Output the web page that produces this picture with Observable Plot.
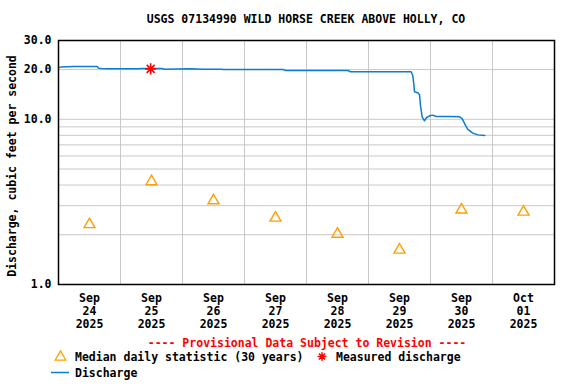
<!DOCTYPE html>
<html>
<head>
<meta charset="utf-8">
<script src="https://cdn.jsdelivr.net/npm/d3@7"></script>
<script src="https://cdn.jsdelivr.net/npm/@observablehq/plot@0.6"></script>
<style>
  html, body { margin: 0; padding: 0; background: #fff; }
  #chart { width: 576px; height: 384px; }
</style>
</head>
<body>
<div id="chart"></div>
<script>
// ---- data ----
const title = "USGS 07134990 WILD HORSE CREEK ABOVE HOLLY, CO";
const yLabel = "Discharge, cubic feet per second";
const provisional = "---- Provisional Data Subject to Revision ----";

const dischargeTimes = [
  "2025-09-24T00:00Z","2025-09-24T01:00Z","2025-09-24T06:00Z","2025-09-24T15:00Z",
  "2025-09-24T15:30Z","2025-09-24T18:00Z","2025-09-25T06:00Z","2025-09-25T09:00Z",
  "2025-09-25T16:00Z","2025-09-25T17:00Z","2025-09-26T03:00Z","2025-09-26T08:00Z",
  "2025-09-26T15:00Z","2025-09-26T16:00Z","2025-09-27T15:00Z","2025-09-27T16:00Z",
  "2025-09-28T16:00Z","2025-09-28T17:00Z","2025-09-29T16:30Z","2025-09-29T17:08Z",
  "2025-09-29T17:32Z","2025-09-29T17:48Z","2025-09-29T19:05Z","2025-09-29T19:45Z",
  "2025-09-29T20:08Z","2025-09-29T20:47Z","2025-09-29T21:40Z","2025-09-29T22:20Z",
  "2025-09-29T23:37Z","2025-09-30T00:53Z","2025-09-30T02:12Z","2025-09-30T07:20Z",
  "2025-09-30T11:14Z","2025-09-30T12:16Z","2025-09-30T13:33Z","2025-09-30T14:27Z",
  "2025-09-30T16:22Z","2025-09-30T18:19Z","2025-09-30T21:00Z"
];
const dischargeValues = [
  20.6, 20.7, 20.9, 20.9,
  20.4, 20.2, 20.2, 20.3,
  20.3, 20.1, 20.2, 20.1,
  20.1, 20.0, 20.0, 19.75,
  19.75, 19.4, 19.4, 18.4,
  16.4, 14.7, 14.5, 14.1,
  12.1, 10.3, 9.8, 10.2,
  10.5, 10.6, 10.4, 10.4,
  10.35, 10.1, 9.2, 8.7,
  8.25, 8.05, 7.98
];

const medianDates = [
  "2025-09-24T12:00Z","2025-09-25T12:00Z","2025-09-26T12:00Z","2025-09-27T12:00Z",
  "2025-09-28T12:00Z","2025-09-29T12:00Z","2025-09-30T12:00Z","2025-10-01T12:00Z"
];
const medianValues = [2.31, 4.2, 3.22, 2.53, 2.02, 1.62, 2.83, 2.75];

const measuredTimes = ["2025-09-25T11:40Z"];
const measuredValues = [20.2];

const xDomain = ["2025-09-24T00:00Z", "2025-10-02T00:00Z"];
const dayLines = [
  "2025-09-25T00:00Z","2025-09-26T00:00Z","2025-09-27T00:00Z","2025-09-28T00:00Z",
  "2025-09-29T00:00Z","2025-09-30T00:00Z","2025-10-01T00:00Z"
];
const yTicks = [1, 10, 20, 30];
const yGrid = [2, 3, 4, 5, 6, 7, 8, 9, 10, 20];

const legendMedian = "Median daily statistic (30 years)";
const legendMeasured = "Measured discharge";
const legendDischarge = "Discharge";

// ---- build ----
const discharge = dischargeTimes.map((t, i) => ({date: new Date(t), value: dischargeValues[i]}));
const median = medianDates.map((t, i) => ({date: new Date(t), value: medianValues[i]}));
const measured = measuredTimes.map((t, i) => ({date: new Date(t), value: measuredValues[i]}));

const FONT = "DejaVu Sans Mono";
const lineColor = "#0a7dd2";
const orange = "#ffa000";
const red = "#ff0000";

// eight-spoke star symbol
const star8 = {
  draw(context, size) {
    const r = Math.sqrt(size / Math.PI);
    for (let k = 0; k < 4; k++) {
      const a = k * Math.PI / 4;
      const dx = r * Math.cos(a), dy = r * Math.sin(a);
      context.moveTo(-dx, -dy);
      context.lineTo(dx, dy);
    }
  }
};

const fmt = d3.utcFormat("%b\n%d\n%Y");

const chart = Plot.plot({
  width: 576,
  height: 384,
  marginLeft: 58,
  marginRight: 22,
  marginTop: 40,
  marginBottom: 100,
  style: {fontFamily: FONT, fontSize: "11.5px", fontWeight: "bold", color: "#000", background: "#fff"},
  x: {type: "utc", domain: xDomain.map(d => new Date(d))},
  y: {type: "log", domain: [1, 30]},
  marks: [
    Plot.gridX(dayLines.map(d => new Date(d)), {stroke: "#c8c8c8", strokeOpacity: 1}),
    Plot.gridY(yGrid, {stroke: "#c8c8c8", strokeOpacity: 1}),
    Plot.axisY(yTicks, {tickFormat: d => d.toFixed(1), tickSize: 0, tickPadding: 7, label: null, fill: "#000"}),
    Plot.axisX(medianDates.map(d => new Date(d)), {tickFormat: fmt, tickSize: 0, tickPadding: 8, lineHeight: 1.13, label: null, fill: "#000"}),
    Plot.line(discharge, {x: "date", y: "value", stroke: lineColor, strokeWidth: 1.5, curve: "linear"}),
    Plot.dot(median, {x: "date", y: "value", symbol: "triangle", r: 4.1, stroke: orange, strokeWidth: 1.4, fill: "none"}),
    Plot.dot(measured, {x: "date", y: "value", symbol: star8, r: 5.6, stroke: red, strokeWidth: 1.6}),
    Plot.frame({stroke: "#000", strokeWidth: 1.5})
  ]
});

document.getElementById("chart").appendChild(chart);

// ---- titles and legend ----
const svg = d3.select(chart);
const txt = (x, y, s, opts = {}) => svg.append("text")
  .attr("x", x).attr("y", y)
  .attr("font-family", FONT).attr("font-size", opts.size || "11.5px")
  .attr("font-weight", "bold")
  .attr("fill", opts.fill || "#000")
  .attr("text-anchor", opts.anchor || "start")
  .attr("transform", opts.transform || null)
  .text(s);

txt(306, 23, title, {anchor: "middle"});
txt(0, 0, yLabel, {anchor: "middle", transform: "translate(16,166) rotate(-90)"});
txt(307, 347, provisional, {anchor: "middle", fill: red});

// legend row 1
svg.append("path")
  .attr("d", d3.symbol(d3.symbolTriangle, 48)())
  .attr("transform", "translate(60.5,357)")
  .attr("fill", "none").attr("stroke", orange).attr("stroke-width", 1.3);
txt(75, 361, legendMedian);
svg.append("path")
  .attr("d", d3.symbol(star8, 60)())
  .attr("transform", "translate(322,356.5)")
  .attr("fill", "none").attr("stroke", red).attr("stroke-width", 1.5);
txt(336, 361, legendMeasured);
// legend row 2
svg.append("line")
  .attr("x1", 51).attr("x2", 69).attr("y1", 372.5).attr("y2", 372.5)
  .attr("stroke", lineColor).attr("stroke-width", 1.5);
txt(75, 377, legendDischarge);
</script>
</body>
</html>
